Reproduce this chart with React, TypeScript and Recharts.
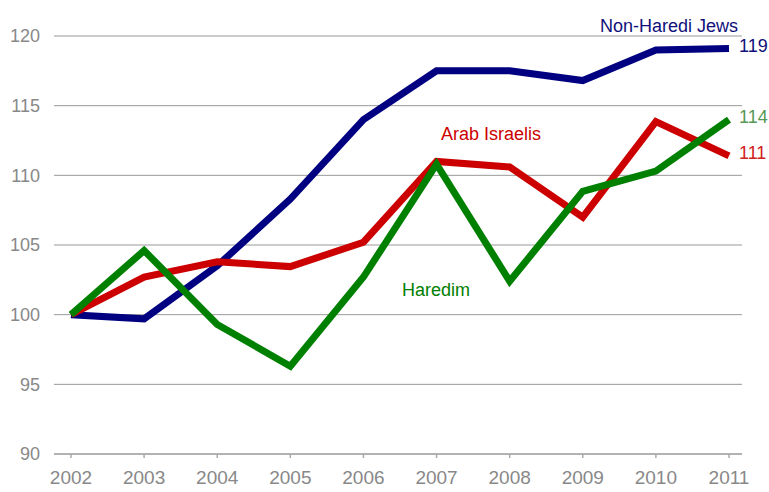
import React from 'react';
import { LineChart, Line, XAxis, YAxis, CartesianGrid, LabelList } from 'recharts';

const years = ['2002', '2003', '2004', '2005', '2006', '2007', '2008', '2009', '2010', '2011'];
const nonHarediJews = [100, 99.7, 103.5, 108.3, 114.0, 117.5, 117.5, 116.8, 119.0, 119.1];
const arabIsraelis = [100, 102.7, 103.8, 103.45, 105.2, 111.0, 110.6, 107.0, 113.85, 111.4];
const haredim = [100, 104.6, 99.3, 96.3, 102.7, 110.8, 102.4, 108.85, 110.3, 114.0];
const yTicks = [90, 95, 100, 105, 110, 115, 120];
const endLabels = { jews: '119', arab: '111', haredim: '114' };

const data = years.map((year, i) => ({
  year,
  jews: nonHarediJews[i],
  arab: arabIsraelis[i],
  haredim: haredim[i],
}));

const FONT = '"Liberation Sans", Arial, sans-serif';

// text label only next to the final point of a series
const endLabel = (text: string, color: string) => (props: any) => {
  const { x, y, index } = props;
  if (index !== years.length - 1) return null;
  return (
    <text x={x + 10} y={y - 3} fill={color} fontSize={18} fontFamily={FONT} dominantBaseline="central">
      {text}
    </text>
  );
};

const seriesName = (text: string, color: string, left: number, top: number) => (
  <div
    style={{
      position: 'absolute',
      left,
      top,
      color,
      fontSize: 18,
      fontFamily: FONT,
      whiteSpace: 'nowrap',
      lineHeight: '20px',
    }}
  >
    {text}
  </div>
);

export default function App() {
  return (
    <div style={{ position: 'fixed', left: 0, top: 0, width: 769, height: 492, background: '#fff' }}>
      <LineChart width={769} height={492} data={data} margin={{ top: 36, right: 27, bottom: 8, left: 0 }}>
        <CartesianGrid vertical={false} stroke="#999" strokeWidth={1} />
        <XAxis
          dataKey="year"
          padding={{ left: 17, right: 13 }}
          height={30}
          tickSize={4}
          tickMargin={13}
          stroke="#aaa"
          strokeWidth={1.5}
          tick={{ fill: '#888', fontSize: 19, fontFamily: FONT }}
        />
        <YAxis
          domain={[90, 120]}
          ticks={yTicks}
          width={54}
          axisLine={false}
          tickLine={false}
          tickSize={6}
          tickMargin={8}
          tick={{ fill: '#888', fontSize: 18, fontFamily: FONT }}
        />
        <Line dataKey="jews" stroke="#000080" strokeWidth={7} dot={false} isAnimationActive={false} strokeLinejoin="miter">
          <LabelList dataKey="jews" content={endLabel(endLabels.jews, '#10107a')} />
        </Line>
        <Line dataKey="arab" stroke="#cc0000" strokeWidth={7} dot={false} isAnimationActive={false} strokeLinejoin="miter">
          <LabelList dataKey="arab" content={endLabel(endLabels.arab, '#d02020')} />
        </Line>
        <Line dataKey="haredim" stroke="#008000" strokeWidth={7} dot={false} isAnimationActive={false} strokeLinejoin="miter">
          <LabelList dataKey="haredim" content={endLabel(endLabels.haredim, '#559955')} />
        </Line>
      </LineChart>
      {seriesName('Non-Haredi Jews', '#10107a', 600, 16)}
      {seriesName('Arab Israelis', '#cc0000', 441, 124)}
      {seriesName('Haredim', '#008000', 402, 280)}
    </div>
  );
}
